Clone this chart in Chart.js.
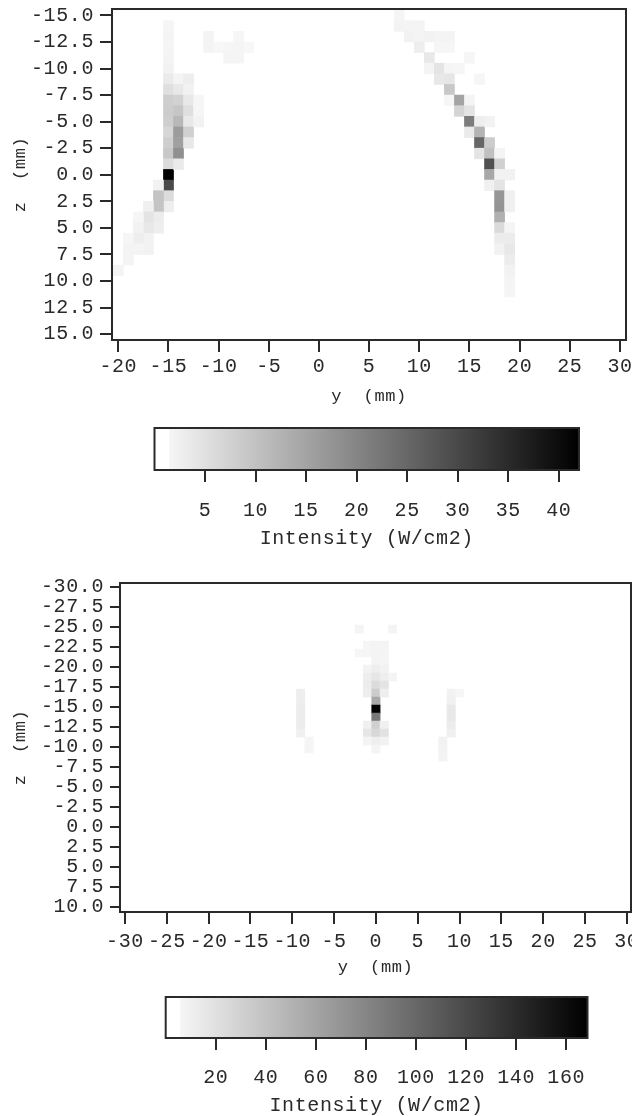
<!DOCTYPE html>
<html>
<head>
<meta charset="utf-8">
<style>
html,body{margin:0;padding:0;background:#fff;width:632px;height:1116px;overflow:hidden}
canvas{position:absolute;left:0;filter:blur(0.4px)}
</style>
<script src="https://cdn.jsdelivr.net/npm/chart.js@4"></script>
</head>
<body>
<canvas id="topMap" style="top:0" width="632" height="406"></canvas>
<canvas id="topBar" style="top:415px" width="632" height="135"></canvas>
<canvas id="lowMap" style="top:560px" width="632" height="416"></canvas>
<canvas id="lowBar" style="top:985px" width="632" height="131"></canvas>
<script>
const topTicksY = [-20,-15,-10,-5,0,5,10,15,20,25,30];
const topTicksZ = [-15,-12.5,-10,-7.5,-5,-2.5,0,2.5,5,7.5,10,12.5,15];
const lowTicksY = [-30,-25,-20,-15,-10,-5,0,5,10,15,20,25,30];
const lowTicksZ = [-30,-27.5,-25,-22.5,-20,-17.5,-15,-12.5,-10,-7.5,-5,-2.5,0,2.5,5,7.5,10];
const topBarTicks = [5,10,15,20,25,30,35,40];
const lowBarTicks = [20,40,60,80,100,120,140,160];
const topMaxI = 42;
const lowMaxI = 168.5;
const barXLabel = "y  (mm)";
const barZLabel = "z  (mm)";
const barTitle = "Intensity (W/cm2)";

const topCellY = [
-15,-15,-15,-15,-15,-15,-15,-15,-15,-15,-15,-15,-15,-15,-15,-15,-15,-15,
-14,-14,-14,-14,-14,-14,-14,-14,-14,
-13,-13,-13,-13,-13,-13,-13,
-12,-12,-12,
-16,-16,-16,-16,-16,
-17,-17,-17,-17,-17,
-18,-18,-18,-18,
-19,-19,-19,
-20,
-11,-11,-10,-9,-9,-8,-8,-8,-7,
8,8,9,9,10,10,10,11,11,11,12,12,12,12,13,13,13,13,13,13,14,14,14,
15,15,15,15,15,16,16,16,16,16,17,17,17,17,17,17,
18,18,18,18,18,18,18,18,18,18,
19,19,19,19,19,19,19,19,19,19];
const topCellZ = [
-14,-13,-12,-11,-10,-9,-8,-7,-6,-5,-4,-3,-2,-1,0,1,2,3,
-9,-8,-7,-6,-5,-4,-3,-2,-1,
-9,-8,-7,-6,-5,-4,-3,
-7,-6,-5,
1,2,3,4,5,
3,4,5,6,7,
4,5,6,7,
6,7,8,
9,
-13,-12,-12,-12,-11,-13,-12,-11,-12,
-15,-14,-14,-13,-14,-13,-12,-13,-11,-10,-13,-12,-10,-9,-13,-12,-10,-9,-8,-7,-10,-7,-6,
-11,-7,-6,-5,-4,-9,-5,-4,-3,-2,-5,-3,-2,-1,0,1,
-2,-1,0,1,2,3,4,5,6,7,
0,2,3,5,6,7,8,9,10,11];
const topCellI = [
1.6,1.8,1.6,1.8,2.1,3.5,5.3,8.1,8.4,8.1,6.8,8.1,9.1,5.8,42,29.8,5.8,2.8,
1.8,3.8,7.4,9.4,11.7,16.3,15.6,18.3,3.5,
2.8,2.1,3.8,5.3,3.8,7.7,3.8,
1.5,1.5,2.1,
2.1,9.7,9.7,3.1,2.8,
2.5,4.4,3.8,2.1,2.1,
1.5,2.1,2.8,1.8,
1.5,1.8,1.8,
1.8,
1.8,1.8,1.3,1.5,1.6,1.5,1.6,1.6,1.3,
1.6,2.0,1.8,2.1,1.8,1.8,2.8,2.1,3.8,1.8,1.8,1.5,4.4,3.8,1.8,1.5,1.6,4.1,9.1,1.5,1.5,15.0,7.1,
1.5,1.8,4.4,21.6,3.5,1.5,2.8,12.4,25.2,4.4,2.1,8.4,10.4,28.8,14.3,2.5,
1.8,7.7,2.1,4.4,17.3,17.6,13.0,6.1,3.1,2.1,
2.1,2.5,2.5,1.8,3.1,3.8,3.1,2.1,1.8,1.6];

const lowCellY = [
-2,-2,2,
-1,-1,-1,-1,-1,-1,-1,-1,-1,
0,0,0,0,0,0,0,0,0,0,0,0,0,0,
1,1,1,1,1,1,1,1,1,1,
2,
-9,-9,-9,-9,-9,-9,-8,-8,
9,9,9,9,9,9,10,8,8,8];
const lowCellZ = [
-24.75,-21.75,-24.75,
-22.75,-21.75,-19.75,-18.75,-17.75,-16.75,-12.75,-11.75,-10.75,
-22.75,-21.75,-20.75,-19.75,-18.75,-17.75,-16.75,-15.75,-14.75,-13.75,-12.75,-11.75,-10.75,-9.75,
-22.75,-21.75,-20.75,-19.75,-18.75,-17.75,-16.75,-12.75,-11.75,-10.75,
-18.75,
-16.75,-15.75,-14.75,-13.75,-12.75,-11.75,-10.75,-9.75,
-16.75,-15.75,-14.75,-13.75,-12.75,-11.75,-16.75,-10.75,-9.75,-8.75];
const lowCellI = [
7.2,5.9,7.2,
5.9,5.9,7.9,11.2,12.5,11.2,9.9,16.5,7.2,
7.2,7.2,7.2,11.2,16.5,23,33.6,57.3,168,89,31,25.7,11.2,7.2,
7.2,7.2,6.6,8.6,11.2,17.8,11.2,9.9,19.1,8.6,
7.2,
11.2,11.2,12.5,12.5,12.5,9.9,6.6,6.6,
8.6,9.9,15.2,15.2,12.5,9.9,5.9,8.6,8.6,7.2];

const barStopValuesTop = [0,1.4,1.4,42];
const barStopValuesLow = [0,5.6,5.6,168.5];
const barStopGrays = [255,255,246,0];

const INK = '#2a2a2a';
const TICK_FONT = {family:'"Liberation Mono"', size:20, lineHeight:1};
const TITLE_FONT = {family:'"Liberation Mono"', size:17, lineHeight:1};

const framePlugin = {
  id:'frame',
  beforeDraw(chart){ chart.ctx.letterSpacing = '0.6px'; },
  afterDatasetsDraw(chart){
    const a = chart.chartArea, c = chart.ctx;
    c.save();
    c.strokeStyle = INK; c.lineWidth = 2;
    c.strokeRect(a.left, a.top, a.right-a.left, a.bottom-a.top);
    c.restore();
  }
};

function fixTicks(values){
  return s => { s.ticks = values.map(v => ({value:v})); };
}

function heatmap(id, ys, zs, is, maxI, ticksY, ticksZ, box){
  const gray = v => { const g = Math.round(255*(1-v/maxI)); return `rgb(${g},${g},${g})`; };
  return new Chart(document.getElementById(id), {
    type:'bar',
    plugins:[framePlugin],
    data:{datasets:[{
      data: ys.map((y,k)=>({x:y, y:[zs[k]-0.5, zs[k]+0.5]})),
      backgroundColor: is.map(gray),
      borderWidth:0,
      barPercentage:1,
      categoryPercentage:1
    }]},
    options:{
      responsive:false, animation:false, devicePixelRatio:1,
      layout:{padding:{left:0,right:box.right,top:box.top,bottom:0}},
      plugins:{legend:{display:false},tooltip:{enabled:false}},
      scales:{
        x:{type:'linear',offset:false,min:box.yMin,max:box.yMax,
          afterBuildTicks:fixTicks(ticksY),
          afterFit:s=>{s.height=box.xHeight;s.paddingLeft=0;s.paddingRight=0;},
          grid:{offset:false,color:INK,lineWidth:2,drawOnChartArea:false,tickLength:12,tickColor:INK},
          border:{display:false},
          ticks:{color:INK,font:TICK_FONT,padding:box.xPad,autoSkip:false,maxRotation:0,minRotation:0,
            callback:v=>String(v)},
          title:{display:true,text:barXLabel,color:INK,font:TITLE_FONT,padding:{top:0,bottom:box.titleBottom}}
        },
        y:{type:'linear',reverse:true,min:box.zMin,max:box.zMax,
          afterBuildTicks:fixTicks(ticksZ),
          afterFit:s=>{s.width=box.left;s.paddingTop=0;s.paddingBottom=0;},
          grid:{color:INK,lineWidth:2,drawOnChartArea:false,tickLength:box.yTick,tickColor:INK},
          border:{display:false},
          ticks:{color:INK,font:TICK_FONT,padding:6,autoSkip:false,
            callback:v=>Number(v).toFixed(1)},
          title:{display:true,text:barZLabel,color:INK,font:TITLE_FONT,padding:{top:box.zTitleTop,bottom:0}}
        }
      }
    }
  });
}

function colorbar(id, maxI, stops, ticks, box){
  return new Chart(document.getElementById(id), {
    type:'bar',
    plugins:[framePlugin],
    data:{labels:['I'],datasets:[{
      data:[[0,maxI]],
      backgroundColor(ctx){
        const sc = ctx.chart.scales.x;
        const l = sc ? sc.getPixelForValue(0) : NaN, r = sc ? sc.getPixelForValue(maxI) : NaN;
        if(!Number.isFinite(l) || !Number.isFinite(r)) return '#888';
        const g = ctx.chart.ctx.createLinearGradient(l,0,r,0);
        stops.forEach((v,k)=>{const c=barStopGrays[k];g.addColorStop(v/maxI,`rgb(${c},${c},${c})`);});
        return g;
      },
      borderWidth:0,barPercentage:1,categoryPercentage:1
    }]},
    options:{
      indexAxis:'y',
      responsive:false, animation:false, devicePixelRatio:1,
      layout:{padding:{left:box.left,right:box.right,top:box.top,bottom:0}},
      plugins:{legend:{display:false},tooltip:{enabled:false}},
      scales:{
        x:{type:'linear',min:0,max:maxI,
          afterBuildTicks:fixTicks(ticks),
          afterFit:s=>{s.height=box.xHeight;s.paddingLeft=0;s.paddingRight=0;},
          grid:{color:INK,lineWidth:2,drawOnChartArea:false,tickLength:12,tickColor:INK},
          border:{display:false},
          ticks:{color:INK,font:TICK_FONT,padding:box.xPad,autoSkip:false,maxRotation:0,minRotation:0,
            callback:v=>String(v)},
          title:{display:true,text:barTitle,color:INK,font:TICK_FONT,padding:{top:0,bottom:box.titleBottom}}
        },
        y:{display:false}
      }
    }
  });
}

heatmap('topMap',topCellY,topCellZ,topCellI,topMaxI,topTicksY,topTicksZ,
  {left:112,right:6,top:9,xHeight:66,yMin:-20.63,yMax:30.6,zMin:-15.6,zMax:15.55,xPad:5,titleBottom:1,yTick:12,zTitleTop:12});
colorbar('topBar',topMaxI,barStopValuesTop,topBarTicks,
  {left:154.5,right:53,top:13,xHeight:80,xPad:19,titleBottom:1});
heatmap('lowMap',lowCellY,lowCellZ,lowCellI,lowMaxI,lowTicksY,lowTicksZ,
  {left:120,right:1,top:23,xHeight:64,yMin:-30.6,yMax:30.5,zMin:-30.5,zMax:10.6,xPad:8,titleBottom:0,yTick:10,zTitleTop:12});
colorbar('lowBar',lowMaxI,barStopValuesLow,lowBarTicks,
  {left:165.7,right:44.5,top:12,xHeight:78,xPad:18,titleBottom:0});
</script>
</body>
</html>
